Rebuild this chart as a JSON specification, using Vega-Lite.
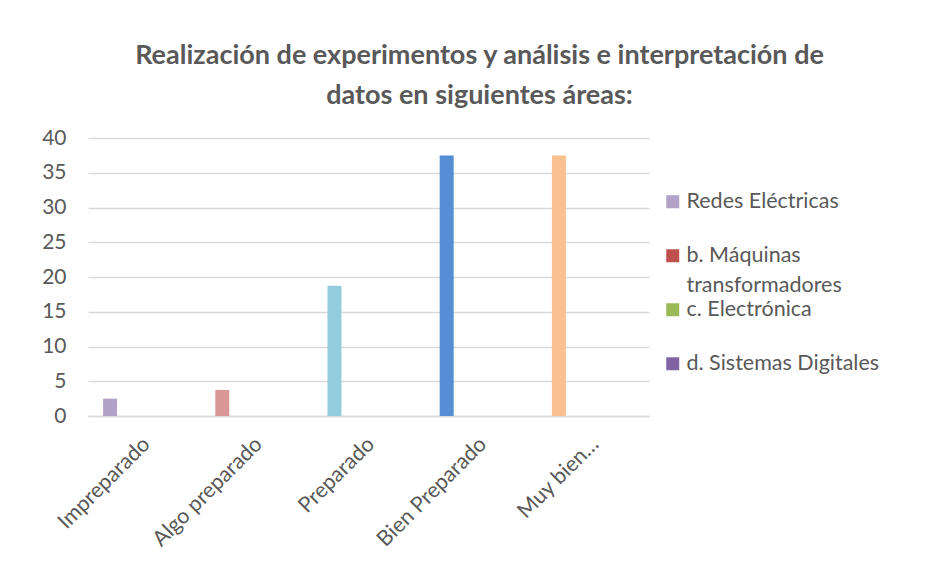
{
  "$schema": "https://vega.github.io/schema/vega-lite/v6.json",
  "width": 561,
  "height": 278,
  "autosize": "none",
  "padding": {"left": 88, "top": 138, "right": 291, "bottom": 156},
  "background": "white",
  "config": {
    "font": "Lato",
    "view": {"stroke": null},
    "style": {"guide-label": {"lineHeight": 30}}
  },
  "title": {
    "text": ["Realización de experimentos y análisis e interpretación de", "datos en siguientes áreas:"],
    "fontSize": 27,
    "fontWeight": "bold",
    "color": "#595959",
    "anchor": "middle",
    "dx": 111,
    "lineHeight": 40,
    "offset": 17,
    "font": "Lato"
  },
  "data": {
    "values": [
      {"category": "Impreparado", "series": "Redes Eléctricas", "value": 2.5},
      {"category": "Algo preparado", "series": "Redes Eléctricas", "value": 3.75},
      {"category": "Preparado", "series": "Redes Eléctricas", "value": 18.75},
      {"category": "Bien Preparado", "series": "Redes Eléctricas", "value": 37.5},
      {"category": "Muy bien…", "series": "Redes Eléctricas", "value": 37.5},
      {"category": "Impreparado", "series": "b. Máquinas transformadores", "value": 0},
      {"category": "Algo preparado", "series": "b. Máquinas transformadores", "value": 0},
      {"category": "Preparado", "series": "b. Máquinas transformadores", "value": 0},
      {"category": "Bien Preparado", "series": "b. Máquinas transformadores", "value": 0},
      {"category": "Muy bien…", "series": "b. Máquinas transformadores", "value": 0},
      {"category": "Impreparado", "series": "c. Electrónica", "value": 0},
      {"category": "Algo preparado", "series": "c. Electrónica", "value": 0},
      {"category": "Preparado", "series": "c. Electrónica", "value": 0},
      {"category": "Bien Preparado", "series": "c. Electrónica", "value": 0},
      {"category": "Muy bien…", "series": "c. Electrónica", "value": 0},
      {"category": "Impreparado", "series": "d. Sistemas Digitales", "value": 0},
      {"category": "Algo preparado", "series": "d. Sistemas Digitales", "value": 0},
      {"category": "Preparado", "series": "d. Sistemas Digitales", "value": 0},
      {"category": "Bien Preparado", "series": "d. Sistemas Digitales", "value": 0},
      {"category": "Muy bien…", "series": "d. Sistemas Digitales", "value": 0}
    ]
  },
  "encoding": {
    "x": {
      "field": "category",
      "type": "nominal",
      "sort": ["Impreparado", "Algo preparado", "Preparado", "Bien Preparado", "Muy bien…"],
      "scale": {"paddingInner": 0, "paddingOuter": 0},
      "axis": {
        "title": null,
        "labelAngle": -45,
        "labelAlign": "right",
        "labelBaseline": "top",
        "labelFontSize": 21.5,
        "labelColor": "#595959",
        "ticks": false,
        "domain": true,
        "domainColor": "#D9D9D9",
        "domainWidth": 1.5,
        "labelPadding": 17,
        "labelOffset": -5,
        "grid": false
      }
    },
    "xOffset": {
      "field": "series",
      "type": "nominal",
      "scale": {
        "domain": ["Redes Eléctricas", "b. Máquinas transformadores", "c. Electrónica", "d. Sistemas Digitales"],
        "paddingInner": 0.287,
        "paddingOuter": 1,
        "align": 0.384
      }
    },
    "y": {
      "field": "value",
      "type": "quantitative",
      "scale": {"domain": [0, 40]},
      "axis": {
        "title": null,
        "values": [0, 5, 10, 15, 20, 25, 30, 35, 40],
        "labelFontSize": 21,
        "labelColor": "#595959",
        "ticks": false,
        "domain": false,
        "gridColor": "#D9D9D9",
        "gridWidth": 1.5,
        "labelPadding": 22
      }
    }
  },
  "layer": [
    {
      "transform": [{"filter": "datum.series == 'Redes Eléctricas'"}],
      "mark": {"type": "bar"},
      "encoding": {
        "color": {
          "field": "category",
          "type": "nominal",
          "scale": {
            "domain": ["Impreparado", "Algo preparado", "Preparado", "Bien Preparado", "Muy bien…"],
            "range": ["#B3A2C7", "#D99694", "#93CDDD", "#558ED5", "#FAC090"]
          },
          "legend": null
        }
      }
    },
    {
      "transform": [{"filter": "datum.series != 'Redes Eléctricas'"}],
      "mark": {"type": "bar"},
      "encoding": {
        "color": {
          "field": "series",
          "type": "nominal",
          "scale": {
            "domain": ["Redes Eléctricas", "b. Máquinas transformadores", "c. Electrónica", "d. Sistemas Digitales"],
            "range": ["#B3A2C7", "#C0504D", "#9BBB59", "#8064A2"]
          },
          "legend": {
            "title": null,
            "orient": "none",
            "legendX": 574,
            "legendY": 53,
            "symbolType": "square",
            "symbolSize": 169,
            "symbolStrokeWidth": 0,
            "labelFontSize": 21.5,
            "labelColor": "#595959",
            "labelOffset": 3,
            "labelLimit": 300,
            "rowPadding": 1,
            "gridAlign": "all",
            "labelExpr": "datum.label == 'b. Máquinas transformadores' ? ['b. Máquinas', 'transformadores'] : datum.label"
          }
        }
      }
    }
  ],
  "resolve": {"scale": {"color": "independent"}}
}
